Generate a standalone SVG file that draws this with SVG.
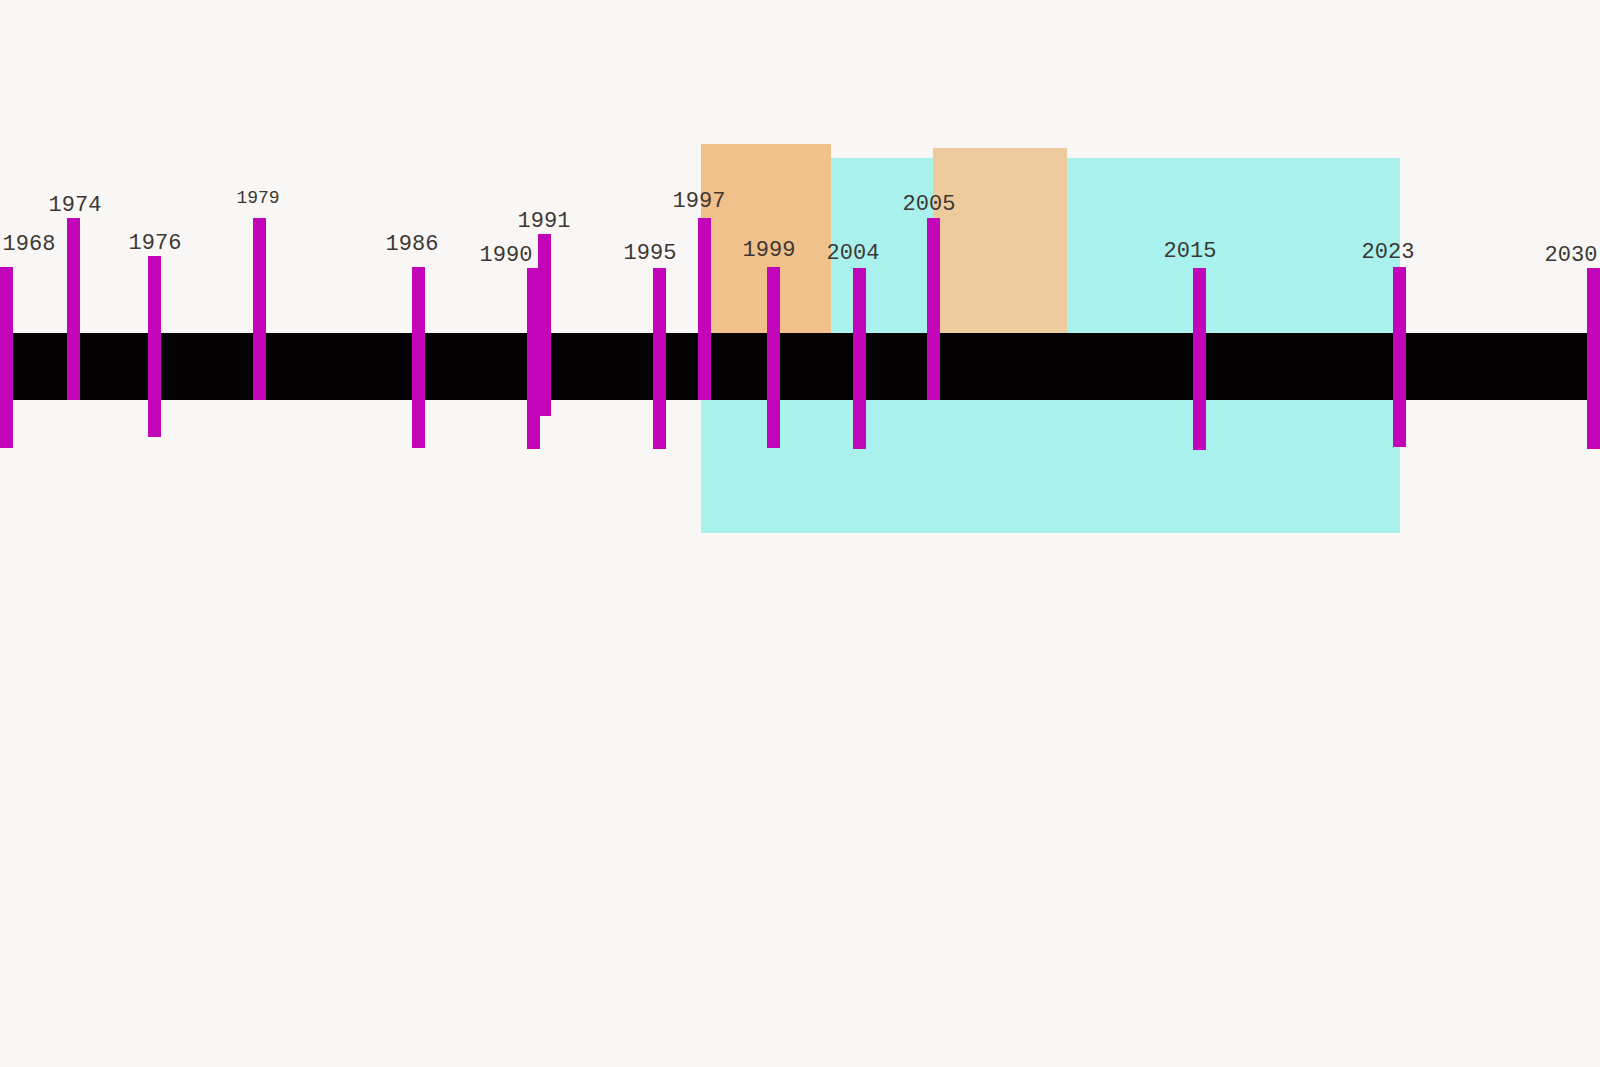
<svg xmlns="http://www.w3.org/2000/svg" width="1600" height="1067" viewBox="0 0 1600 1067">
<style>
.tick{fill:#c205b8}
.lbl{font-family:"Liberation Mono","DejaVu Sans Mono",monospace;font-size:22px;fill:#3d3733;text-anchor:middle}
.period{fill:#a9f1ec}
.era1{fill:#f1c18c}
.era2{fill:#edcb9c}
</style>
<rect x="0" y="0" width="1600" height="1067" fill="#f8f7f6"/>
<g id="periods">
<rect id="period-main" class="period" x="701" y="158" width="699" height="375"/>
<rect id="period-a" class="era1" x="701" y="144" width="130" height="189"/>
<rect id="period-b" class="era2" x="933" y="148" width="134" height="185"/>
</g>
<g id="axis">
<rect x="0" y="333" width="1600" height="67" fill="#030102"/>
</g>
<g id="ticks">
<g id="y1968"><rect class="tick" x="0" y="267" width="13" height="181"/><text class="lbl" x="29" y="250">1968</text></g>
<g id="y1974"><rect class="tick" x="67" y="218" width="13" height="182"/><text class="lbl" x="75" y="211">1974</text></g>
<g id="y1976"><rect class="tick" x="148" y="256" width="13" height="181"/><text class="lbl" x="155" y="249">1976</text></g>
<g id="y1979"><rect class="tick" x="253" y="218" width="13" height="182"/><text class="lbl" x="258" y="203" style="font-size:18px">1979</text></g>
<g id="y1986"><rect class="tick" x="412" y="267" width="13" height="181"/><text class="lbl" x="412" y="250">1986</text></g>
<g id="y1990"><rect class="tick" x="527" y="268" width="13" height="181"/><text class="lbl" x="506" y="261">1990</text></g>
<g id="y1991"><rect class="tick" x="538" y="234" width="13" height="182"/><text class="lbl" x="544" y="227">1991</text></g>
<g id="y1995"><rect class="tick" x="653" y="268" width="13" height="181"/><text class="lbl" x="650" y="259">1995</text></g>
<g id="y1997"><rect class="tick" x="698" y="218" width="13" height="182"/><text class="lbl" x="699" y="207">1997</text></g>
<g id="y1999"><rect class="tick" x="767" y="267" width="13" height="181"/><text class="lbl" x="769" y="256">1999</text></g>
<g id="y2004"><rect class="tick" x="853" y="268" width="13" height="181"/><text class="lbl" x="853" y="259">2004</text></g>
<g id="y2005"><rect class="tick" x="927" y="218" width="13" height="182"/><text class="lbl" x="929" y="210">2005</text></g>
<g id="y2015"><rect class="tick" x="1193" y="268" width="13" height="182"/><text class="lbl" x="1190" y="257">2015</text></g>
<g id="y2023"><rect class="tick" x="1393" y="267" width="13" height="180"/><text class="lbl" x="1388" y="258">2023</text></g>
<g id="y2030"><rect class="tick" x="1587" y="268" width="13" height="181"/><text class="lbl" x="1571" y="261">2030</text></g>
</g>
</svg>
